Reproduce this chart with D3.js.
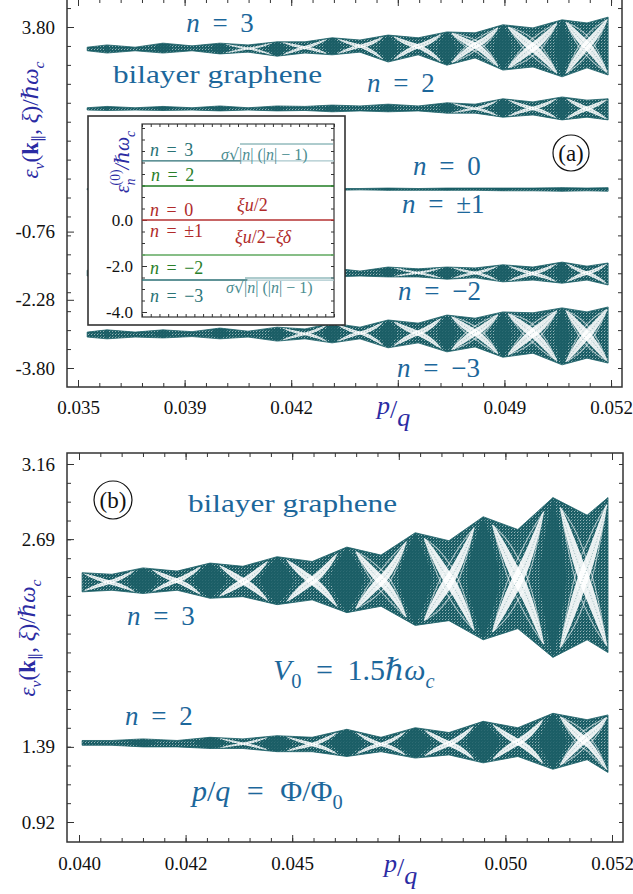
<!DOCTYPE html>
<html>
<head>
<meta charset="utf-8">
<script src="https://cdn.jsdelivr.net/npm/d3@7/dist/d3.min.js"></script>
<style>
  html, body { margin: 0; padding: 0; background: #fff; }
  svg { display: block; }
</style>
</head>
<body>
<svg id="fig" width="633" height="894"></svg>
<script>
// ---------- panel (a): all bands of bilayer graphene vs p/q ----------
const aTickPQ = [0.035333, 0.038667, 0.042, 0.045333, 0.048667, 0.052];
const aTickPQLabels = ["0.035", "0.039", "0.042", "", "0.049", "0.052"];
const aTickE = [3.80, -0.76, -2.28, -3.80];
const aTickELabels = ["3.80", "-0.76", "-2.28", "-3.80"];

// p/q samples of the band envelopes, and the flux values of the dense diamond cores
const aPQ = [0.03562, 0.03624, 0.03712, 0.03799, 0.03890, 0.03977, 0.04065, 0.04156, 0.04243, 0.04328,
             0.04415, 0.04503, 0.04597, 0.04687, 0.04775, 0.04862, 0.04956, 0.05047, 0.05125, 0.05191];
const aNodes = [0.03624, 0.03799, 0.03977, 0.04156, 0.04328, 0.04503, 0.04687, 0.04862, 0.05047];

const aN3Top = [3.35, 3.40, 3.35, 3.44, 3.38, 3.44, 3.40, 3.47, 3.47, 3.56, 3.51, 3.62, 3.56, 3.69, 3.67, 3.85, 3.78, 3.96, 3.89, 4.02];
const aN3Bot = [3.27, 3.22, 3.27, 3.22, 3.27, 3.20, 3.24, 3.15, 3.22, 3.18, 3.24, 3.02, 3.18, 2.95, 3.11, 2.84, 2.91, 2.69, 2.89, 2.73];
const aN2Top = [2.00, 2.03, 2.00, 2.03, 2.00, 2.04, 2.00, 2.04, 2.03, 2.06, 2.04, 2.08, 2.04, 2.11, 2.08, 2.20, 2.13, 2.24, 2.17, 2.20];
const aN2Bot = [1.95, 1.94, 1.95, 1.94, 1.95, 1.93, 1.95, 1.93, 1.94, 1.91, 1.93, 1.91, 1.93, 1.88, 1.88, 1.79, 1.84, 1.73, 1.79, 1.73];
const aN0Top = [0.20, 0.20, 0.20, 0.20, 0.20, 0.20, 0.20, 0.20, 0.20, 0.20, 0.20, 0.21, 0.20, 0.21, 0.21, 0.21, 0.21, 0.22, 0.21, 0.22];
const aN0Bot = [0.17, 0.17, 0.17, 0.17, 0.17, 0.17, 0.17, 0.17, 0.17, 0.16, 0.17, 0.16, 0.16, 0.16, 0.16, 0.15, 0.15, 0.14, 0.15, 0.14];
const aM2Top = [-1.62, -1.61, -1.62, -1.61, -1.62, -1.59, -1.62, -1.59, -1.62, -1.57, -1.64, -1.55, -1.59, -1.55, -1.57, -1.50, -1.55, -1.44, -1.53, -1.46];
const aM2Bot = [-1.75, -1.76, -1.75, -1.76, -1.75, -1.77, -1.75, -1.77, -1.75, -1.77, -1.75, -1.77, -1.77, -1.82, -1.79, -1.88, -1.84, -1.91, -1.84, -1.95];
const aM3Top = [-3.00, -2.95, -3.00, -2.95, -2.99, -2.91, -2.98, -2.89, -2.93, -2.80, -2.89, -2.73, -2.80, -2.62, -2.69, -2.55, -2.57, -2.46, -2.55, -2.44];
const aM3Bot = [-3.11, -3.15, -3.11, -3.13, -3.10, -3.15, -3.11, -3.20, -3.15, -3.24, -3.15, -3.35, -3.24, -3.44, -3.33, -3.56, -3.47, -3.73, -3.58, -3.69];

// inset: zero-field levels
const insetTickE = [0, -2, -4];
const insetTickLabels = ["0.0", "-2.0", "-4.0"];
const insetLevels = [2.57, 1.48, 0.0, -1.52, -2.61];
const insetColors = ["#2b6f74", "#1f7d22", "#b53232", "#5fa85f", "#2b6f74"];

// ---------- panel (b): n = 2 and n = 3 bands, V0 = 1.5 ----------
const bTickPQ = [0.040, 0.0424, 0.0448, 0.0472, 0.0496, 0.052];
const bTickPQLabels = ["0.040", "0.042", "0.045", "", "0.050", "0.052"];
const bTickE = [3.16, 2.69, 1.39, 0.92];
const bTickELabels = ["3.16", "2.69", "1.39", "0.92"];

const bPQ = [0.04007, 0.04074, 0.04144, 0.04221, 0.04295, 0.04369, 0.04446, 0.04525, 0.04603,
             0.04680, 0.04757, 0.04833, 0.04910, 0.04988, 0.05067, 0.05144, 0.05191];
const bNodes = [0.04144, 0.04295, 0.04446, 0.04603, 0.04757, 0.04910, 0.05067];
const bN3Top = [2.48, 2.47, 2.51, 2.49, 2.54, 2.52, 2.58, 2.55, 2.64, 2.59, 2.73, 2.68, 2.83, 2.75, 2.95, 2.84, 2.95];
const bN3Bot = [2.36, 2.37, 2.35, 2.37, 2.32, 2.33, 2.28, 2.31, 2.23, 2.27, 2.15, 2.18, 2.06, 2.13, 1.95, 2.06, 1.98];
const bN2Top = [1.43, 1.43, 1.44, 1.43, 1.45, 1.44, 1.46, 1.45, 1.50, 1.45, 1.51, 1.48, 1.55, 1.51, 1.60, 1.56, 1.59];
const bN2Bot = [1.40, 1.40, 1.39, 1.39, 1.38, 1.38, 1.36, 1.36, 1.33, 1.36, 1.32, 1.34, 1.29, 1.33, 1.25, 1.31, 1.23];

// ---------- drawing ----------
const serif = '"Liberation Serif", "DejaVu Serif", serif';
const teal = "#1b5e66";
const labelBlue = "#1c679b";
const titleBlue = "#2b2ba3";
const ink = "#333";

const svg = d3.select("#fig");
const defs = svg.append("defs");
// stippled fill of the spectra
const grain = defs.append("pattern").attr("id", "grain")
  .attr("patternUnits", "userSpaceOnUse").attr("width", 3).attr("height", 3);
grain.append("rect").attr("width", 3).attr("height", 3).attr("fill", teal);
grain.append("rect").attr("x", 1).attr("y", 1).attr("width", 1).attr("height", 1)
  .attr("fill", "#fff").attr("fill-opacity", 0.55);
grain.append("rect").attr("x", 2).attr("y", 0).attr("width", 1).attr("height", 1)
  .attr("fill", "#fff").attr("fill-opacity", 0.25);

// mixed roman / italic / sub / superscript text
function rich(sel, parts, fs) {
  let shift = 0;
  parts.forEach(([t, o = {}]) => {
    const ts = sel.append("tspan").text(t);
    if (o.i) ts.attr("font-style", "italic");
    if (o.b) ts.attr("font-weight", "bold");
    if (o.f) ts.attr("font-family", o.f);
    const target = o.sub ? 0.28 * fs : o.sup ? -0.45 * fs : 0;
    if (target - shift) ts.attr("dy", target - shift);
    shift = target;
    if (o.sub || o.sup) ts.attr("font-size", 0.68 * fs);
    if (o.dx) ts.attr("dx", o.dx);
  });
  return sel;
}

function label(g, x, y, parts, fs, color, anchor = "start", extra = {}) {
  const t = g.append("text").attr("x", x).attr("y", y).attr("font-size", fs)
    .attr("font-family", serif).attr("fill", color).attr("text-anchor", anchor);
  Object.entries(extra).forEach(([k, v]) => t.attr(k, v));
  return rich(t, parts, fs);
}

function axis(g, gen, tx, ty, fs) {
  const a = g.append("g").attr("transform", `translate(${tx},${ty})`).call(gen);
  a.select(".domain").remove();
  a.selectAll(".tick line").attr("stroke", ink).attr("stroke-width", 1);
  a.selectAll(".tick text").attr("fill", "#111").attr("font-size", fs).attr("font-family", serif);
  a.selectAll(".tick text").filter(function () { return this.textContent === ""; }).remove();
  return a;
}

// four-sided frame with inward ticks
function frame(g, box, x, y, xMaj, xMajLab, xMin, yMaj, yMajLab, yMin, o) {
  const blank = () => "";
  axis(g, d3.axisBottom(x).tickValues(xMin).tickFormat(blank).tickSizeInner(-o.minor).tickSizeOuter(0), 0, box.b, o.fs);
  axis(g, d3.axisTop(x).tickValues(xMin).tickFormat(blank).tickSizeInner(-o.minor).tickSizeOuter(0), 0, box.t, o.fs);
  axis(g, d3.axisBottom(x).tickValues(xMaj).tickFormat((d, i) => xMajLab[i]).tickSizeInner(-o.major).tickSizeOuter(0).tickPadding(o.xpad), 0, box.b, o.fs);
  axis(g, d3.axisTop(x).tickValues(xMaj).tickFormat(blank).tickSizeInner(-o.major).tickSizeOuter(0), 0, box.t, o.fs);
  axis(g, d3.axisLeft(y).tickValues(yMin).tickFormat(blank).tickSizeInner(-o.minor).tickSizeOuter(0), box.l, 0, o.fs);
  axis(g, d3.axisRight(y).tickValues(yMin).tickFormat(blank).tickSizeInner(-o.minor).tickSizeOuter(0), box.r, 0, o.fs);
  axis(g, d3.axisLeft(y).tickValues(yMaj).tickFormat((d, i) => yMajLab[i]).tickSizeInner(-o.major).tickSizeOuter(0).tickPadding(o.ypad), box.l, 0, o.fs);
  g.append("rect").attr("x", box.l).attr("y", box.t).attr("width", box.r - box.l).attr("height", box.b - box.t)
    .attr("fill", "none").attr("stroke", ink).attr("stroke-width", o.sw);
}

// one Landau band: envelope, crossing gaps between diamond cores, dense cores
function band(g, x, y, xs, tops, bots, nodes, o) {
  const topAt = d3.scaleLinear().domain(xs).range(tops);
  const botAt = d3.scaleLinear().domain(xs).range(bots);
  const pts = xs.map((v, i) => ({ v, t: tops[i], b: bots[i] }));
  g.append("path")
    .attr("d", d3.area().x(d => x(d.v)).y0(d => y(d.b)).y1(d => y(d.t))(pts))
    .attr("fill", "url(#grain)").attr("stroke", teal).attr("stroke-width", 0.8);

  const yIn = (v, s) => { const a = y(topAt(v)), b = y(botAt(v)); return a + s * (b - a); };
  const edges = [xs[0], ...nodes, xs[xs.length - 1]];
  const steps = d3.range(0, 1.0001, 1 / 30);
  for (let i = 0; i < edges.length - 1; i++) {
    const a = edges[i], b = edges[i + 1];
    const m = (a + b) / 2;
    const h = y(botAt(m)) - y(topAt(m));
    if (h < o.minH) continue;
    const u0 = i === 0 ? 0.02 : o.core * 0.55, u1 = i === edges.length - 2 ? 0.98 : 1 - o.core * 0.55;
    [[0.04, 0.96], [0.96, 0.04]].forEach(([s0, s1]) => {
      const up = [], lo = [], mid = [];
      steps.forEach(f => {
        const u = u0 + (u1 - u0) * f;
        const v = a + (b - a) * u;
        const c = s0 + (s1 - s0) * f;
        const hw = o.gap * Math.pow(Math.sin(Math.PI * f), 0.7);
        up.push([x(v), yIn(v, c - hw)]);
        lo.push([x(v), yIn(v, c + hw)]);
        mid.push([x(v), yIn(v, c)]);
      });
      g.append("path").attr("d", d3.line().curve(d3.curveBasis)([...up, ...lo.reverse()]) + "Z")
        .attr("fill", "#fff").attr("fill-opacity", o.gapOpacity);
      g.append("path").attr("d", d3.line()(mid)).attr("fill", "none")
        .attr("stroke", teal).attr("stroke-opacity", 0.5).attr("stroke-width", 0.8)
        .attr("stroke-dasharray", "1,2");
      // fainter parallel lanes beside each gap
      if (h >= o.laneH) {
        [-1, 1].forEach(side => {
          const lane = [];
          steps.forEach(f => {
            const u = u0 + (u1 - u0) * f;
            const v = a + (b - a) * u;
            const c = s0 + (s1 - s0) * f + side * (o.gap + 0.09) * Math.sin(Math.PI * f);
            lane.push([x(v), yIn(v, Math.min(0.97, Math.max(0.03, c)))]);
          });
          g.append("path").attr("d", d3.line().curve(d3.curveBasis)(lane)).attr("fill", "none")
            .attr("stroke", "#fff").attr("stroke-opacity", 0.6).attr("stroke-width", 1.1);
        });
      }
    });
  }
  nodes.forEach((v, k) => {
    const prev = k === 0 ? xs[0] : nodes[k - 1];
    const next = k === nodes.length - 1 ? xs[xs.length - 1] : nodes[k + 1];
    const w = o.core * Math.min(v - prev, next - v);
    const yt = y(topAt(v)), yb = y(botAt(v)), yc = (yt + yb) / 2, s = (yb - yt) * 0.12;
    const xl = x(v - w), xr = x(v + w), xc = x(v);
    g.append("path")
      .attr("d", `M${xc},${yt} Q${xr},${yc - s} ${xr},${yc} Q${xr},${yc + s} ${xc},${yb} ` +
                 `Q${xl},${yc + s} ${xl},${yc} Q${xl},${yc - s} ${xc},${yt}Z`)
      .attr("fill", teal).attr("fill-opacity", 0.85);
  });
}

// ===== panel (a) =====
const gA = svg.append("g");
const boxA = { l: 67, r: 622, t: -1, b: 387 };
const xA = d3.scaleLinear().domain([aTickPQ[0], aTickPQ[5]]).range([78, 611]);
const yA = d3.scaleLinear().domain([aTickE[0], aTickE[3]]).range([27, 368]);
const aMinorPQ = d3.range(0, 26).map(i => aTickPQ[0] + i * (aTickPQ[1] - aTickPQ[0]) / 5);
const aStepE = (aTickE[0] - aTickE[3]) / 18;
const aMinorE = d3.range(-1, 19).map(k => aTickE[0] - k * aStepE);

const aOpt = { core: 0.16, gap: 0.13, gapOpacity: 0.88, minH: 7, laneH: 24 };
[[aN3Top, aN3Bot], [aN2Top, aN2Bot], [aN0Top, aN0Bot], [aM2Top, aM2Bot], [aM3Top, aM3Bot]]
  .forEach(([t, b]) => band(gA, xA, yA, aPQ, t, b, aNodes, aOpt));

frame(gA, boxA, xA, yA, aTickPQ, aTickPQLabels, aMinorPQ, aTickE, aTickELabels, aMinorE,
  { major: 7, minor: 4, fs: 19, xpad: 14, ypad: 12, sw: 1.5 });

// inset with the zero-field levels
const inset = gA.append("g");
inset.append("rect").attr("x", 88).attr("y", 116).attr("width", 257).attr("height", 209)
  .attr("fill", "#fff").attr("stroke", ink).attr("stroke-width", 1.6);
const boxI = { l: 142, r: 334, t: 124, b: 317 };
const xI = d3.scaleLinear().domain([0, 22]).range([boxI.l, boxI.r]);
const yI = d3.scaleLinear().domain([0, -4]).range([220, 312]);
const iMinorE = d3.range(-8, 9).map(k => k * 0.5);
frame(inset, boxI, xI, yI, [], [], d3.range(0, 23), insetTickE, insetTickLabels, iMinorE,
  { major: 5, minor: 3, fs: 17, xpad: 4, ypad: 9, sw: 1.2 });

// level lines; the |n| = 3 lines fade to a light tone under the formula
const breaks = [11.3, null, null, null, 12.1];
insetLevels.forEach((e, i) => {
  const yy = yI(e);
  const xb = breaks[i] === null ? 22 : breaks[i];
  inset.append("line").attr("x1", xI(0)).attr("x2", xI(xb)).attr("y1", yy).attr("y2", yy)
    .attr("stroke", insetColors[i]).attr("stroke-width", 1.4);
  if (breaks[i] !== null) {
    inset.append("line").attr("x1", xI(xb)).attr("x2", xI(22)).attr("y1", yy).attr("y2", yy)
      .attr("stroke", "#a9c7cc").attr("stroke-width", 1.3);
  }
});

const tealTxt = "#2a7376", greenTxt = "#2a7f2a", redTxt = "#b02a2a", sqrtTxt = "#4a8c90";
const radical = [["σ", { i: 1 }], ["√", { f: "DejaVu Serif" }], ["|"], ["n", { i: 1 }], ["| (|"], ["n", { i: 1 }], ["| − 1)"]];
label(inset, 150, 156, [["n", { i: 1 }], [" = 3"]], 18, tealTxt, "start", { "word-spacing": "3px" });
label(inset, 221, 160, radical, 16, sqrtTxt);
inset.append("line").attr("x1", 240).attr("x2", 333).attr("y1", 144).attr("y2", 144).attr("stroke", sqrtTxt).attr("stroke-width", 0.9);
label(inset, 151, 181, [["n", { i: 1 }], [" = 2"]], 18, greenTxt, "start", { "word-spacing": "3px" });
label(inset, 150, 216, [["n", { i: 1 }], [" = 0"]], 18, redTxt, "start", { "word-spacing": "3px" });
label(inset, 237, 211, [["ξu", { i: 1 }], ["/2"]], 18, redTxt);
label(inset, 150, 237, [["n", { i: 1 }], [" = ±1"]], 18, redTxt, "start", { "word-spacing": "3px" });
label(inset, 235, 243, [["ξu", { i: 1 }], ["/2−"], ["ξδ", { i: 1 }]], 18, redTxt);
label(inset, 150, 274, [["n", { i: 1 }], [" = −2"]], 18, greenTxt, "start", { "word-spacing": "3px" });
label(inset, 226, 293, radical, 16, sqrtTxt);
inset.append("line").attr("x1", 245).attr("x2", 334).attr("y1", 278).attr("y2", 278).attr("stroke", sqrtTxt).attr("stroke-width", 0.9);
label(inset, 150, 302, [["n", { i: 1 }], [" = −3"]], 18, tealTxt, "start", { "word-spacing": "3px" });
label(inset, 0, 0, [["ε", { i: 1 }], ["n", { i: 1, sub: 1 }], ["(0)", { sup: 1, dx: -7 }], ["/ℏ", { i: 1 }], ["ω", { i: 1 }], ["c", { i: 1, sub: 1 }]],
  20, titleBlue, "middle", { transform: "translate(129,162) rotate(-90)" });

// panel (a) annotations
label(gA, 220, 32, [["n", { i: 1 }], [" = 3"]], 27, labelBlue, "middle", { "word-spacing": "6px" });
label(gA, 113, 83, [["bilayer graphene"]], 25, labelBlue, "start", { textLength: 209, lengthAdjust: "spacingAndGlyphs" });
label(gA, 367, 92, [["n", { i: 1 }], [" = 2"]], 27, labelBlue, "start", { "word-spacing": "6px" });
label(gA, 413, 175, [["n", { i: 1 }], [" = 0"]], 27, labelBlue, "start", { "word-spacing": "6px" });
label(gA, 402, 213, [["n", { i: 1 }], [" = ±1"]], 27, labelBlue, "start", { "word-spacing": "6px" });
label(gA, 398, 300, [["n", { i: 1 }], [" = −2"]], 27, labelBlue, "start", { "word-spacing": "6px" });
label(gA, 397, 377, [["n", { i: 1 }], [" = −3"]], 27, labelBlue, "start", { "word-spacing": "6px" });
gA.append("circle").attr("cx", 571).attr("cy", 153).attr("r", 18).attr("fill", "none").attr("stroke", "#111").attr("stroke-width", 1.2);
label(gA, 571, 161, [["(a)"]], 23, "#111", "middle");

// axis titles
const yTitle = [["ε", { i: 1 }], ["ν", { i: 1, sub: 1 }], ["("], ["k", { b: 1 }], ["∥", { sub: 1, f: "DejaVu Serif" }], [", "], ["ξ", { i: 1 }], [")/"], ["ℏ", { i: 1 }], ["ω", { i: 1 }], ["c", { i: 1, sub: 1 }]];
label(gA, 0, 0, yTitle, 23, titleBlue, "middle", { transform: "translate(38,120) rotate(-90)" });
// slanted p/q fraction
function pq(g, x0, yb) {
  const t = g.append("text").attr("x", x0).attr("y", yb).attr("font-size", 26)
    .attr("font-family", serif).attr("fill", titleBlue);
  t.append("tspan").attr("font-style", "italic").text("p");
  t.append("tspan").attr("dy", 4).text("/");
  t.append("tspan").attr("font-style", "italic").attr("dy", 8).text("q");
}
pq(gA, 377, 414);

// ===== panel (b) =====
const gB = svg.append("g");
const boxB = { l: 67, r: 623, t: 453, b: 842 };
const xB = d3.scaleLinear().domain([bTickPQ[0], bTickPQ[5]]).range([79, 612]);
const yB = d3.scaleLinear().domain([bTickE[0], bTickE[3]]).range([464, 822]);
const bMinorPQ = d3.range(0, 26).map(i => bTickPQ[0] + i * (bTickPQ[1] - bTickPQ[0]) / 5);
const bStepE = (bTickE[0] - bTickE[3]) / 19;
const bMinorE = d3.range(0, 20).map(k => bTickE[3] + k * bStepE);

const bOpt = { core: 0.24, gap: 0.12, gapOpacity: 0.9, minH: 9, laneH: 40 };
band(gB, xB, yB, bPQ, bN3Top, bN3Bot, bNodes, bOpt);
band(gB, xB, yB, bPQ, bN2Top, bN2Bot, bNodes, bOpt);

frame(gB, boxB, xB, yB, bTickPQ, bTickPQLabels, bMinorPQ, bTickE, bTickELabels, bMinorE,
  { major: 7, minor: 4, fs: 19, xpad: 15, ypad: 12, sw: 1.5 });

gB.append("circle").attr("cx", 113).attr("cy", 500).attr("r", 19).attr("fill", "none").attr("stroke", "#111").attr("stroke-width", 1.2);
label(gB, 113, 508, [["(b)"]], 23, "#111", "middle");
label(gB, 188, 512, [["bilayer graphene"]], 25, labelBlue, "start", { textLength: 209, lengthAdjust: "spacingAndGlyphs" });
label(gB, 127, 625, [["n", { i: 1 }], [" = 3"]], 27, labelBlue, "start", { "word-spacing": "6px" });
label(gB, 273, 680, [["V", { i: 1 }], ["0", { sub: 1 }], [" = 1.5"], ["ℏω", { i: 1 }], ["c", { i: 1, sub: 1 }]], 30, labelBlue, "start", { "word-spacing": "7px" });
label(gB, 125, 725, [["n", { i: 1 }], [" = 2"]], 27, labelBlue, "start", { "word-spacing": "6px" });
label(gB, 192, 801, [["p", { i: 1 }], ["/"], ["q", { i: 1 }], [" = Φ/Φ"], ["0", { sub: 1 }]], 30, labelBlue, "start", { "word-spacing": "9px" });
label(gB, 0, 0, yTitle, 23, titleBlue, "middle", { transform: "translate(35,638) rotate(-90)" });
pq(gB, 384, 872);
</script>
</body>
</html>
